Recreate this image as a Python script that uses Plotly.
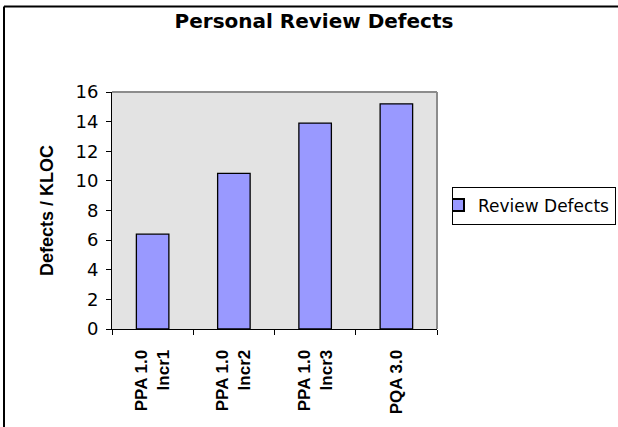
import plotly.graph_objects as go

categories = ["<b>PPA 1.0<br>Incr1</b>", "<b>PPA 1.0<br>Incr2</b>", "<b>PPA 1.0<br>Incr3</b>", "<b>PQA 3.0</b>"]
review_defects = [6.4, 10.5, 13.9, 15.2]
y_ticks = [0, 2, 4, 6, 8, 10, 12, 14, 16]

# plot area in pixels (from the reference)
L, R, T, B = 112, 437, 92, 329
W, H = 618, 427


def px_x(v):
    return (v - L) / (R - L)


def px_y(v):
    return (B - v) / (B - T)


fig = go.Figure()
fig.add_trace(go.Bar(
    x=categories, y=review_defects, name="Review Defects",
    marker=dict(color="#9999FF", line=dict(color="black", width=1.3)),
    showlegend=True,
))

fig.update_layout(
    width=W, height=H,
    margin=dict(l=L, r=W - R, t=T, b=H - B, autoexpand=False),
    paper_bgcolor="white",
    plot_bgcolor="#E3E3E3",
    font=dict(family="Arial, Liberation Sans", color="black"),
    bargap=0.6,
    title=dict(text="<b>Personal Review Defects</b>", x=314 / W, xref="container",
               xanchor="center", y=1 - 21 / H, yanchor="middle",
               font=dict(size=20, family="DejaVu Sans")),
    xaxis=dict(
        tickson="boundaries", ticks="outside", ticklen=5, tickcolor="black",
        tickangle=-90, tickfont=dict(size=17), ticklabelstandoff=13,
        showline=True, linecolor="black", linewidth=1, showgrid=False,
        mirror=False,
    ),
    yaxis=dict(
        range=[0, 16], tickvals=y_ticks, ticks="outside", ticklen=5,
        tickcolor="black", tickfont=dict(size=18, family="DejaVu Sans"),
        ticklabelstandoff=4,
        showline=True, linecolor="black", linewidth=1, showgrid=False,
        zeroline=False,
        title=dict(text="<b>Defects / KLOC</b>", font=dict(size=18), standoff=17),
    ),
    legend=dict(
        x=px_x(452), y=px_y(205.5), xanchor="left", yanchor="middle",
        bordercolor="black", borderwidth=1, bgcolor="white",
        font=dict(size=17, family="DejaVu Sans"), itemsizing="constant",
        itemwidth=30, indentation=-15,
    ),
    shapes=[
        # grey border on top/right of plot area
        dict(type="line", xref="paper", yref="paper", x0=0, x1=1, y0=1, y1=1,
             line=dict(color="#8C8C8C", width=2)),
        dict(type="line", xref="paper", yref="paper", x0=1, x1=1, y0=0, y1=1,
             line=dict(color="#8C8C8C", width=2)),
        # outer chart frame (left and top edges visible)
        dict(type="line", xref="paper", yref="paper",
             x0=px_x(4), x1=px_x(4), y0=px_y(H + 2), y1=px_y(6.5),
             line=dict(color="black", width=2)),
        dict(type="line", xref="paper", yref="paper",
             x0=px_x(4), x1=px_x(W + 2), y0=px_y(6.5), y1=px_y(6.5),
             line=dict(color="black", width=2)),
    ],
)

fig.write_html("out.html", config={"displayModeBar": False},
               post_script="document.body.style.margin='0';")
